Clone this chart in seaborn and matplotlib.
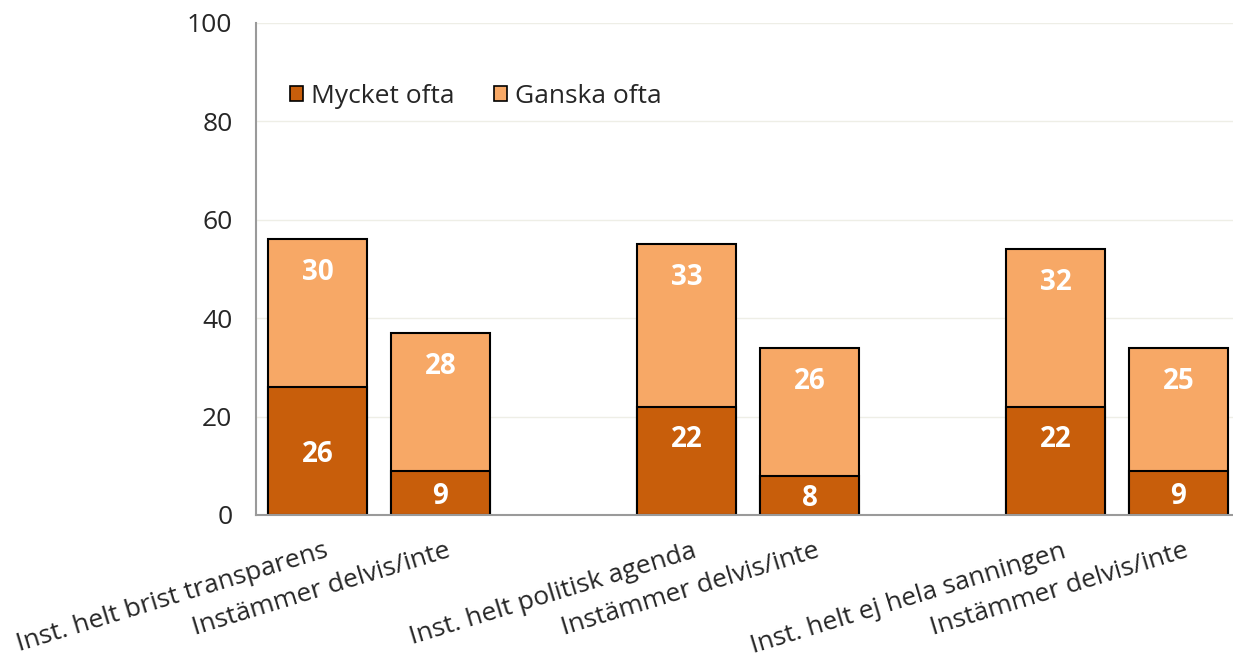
import matplotlib
matplotlib.use("Agg")
import matplotlib.pyplot as plt
import matplotlib.transforms as mtransforms
import seaborn as sns
import pandas as pd
import numpy as np
from matplotlib.ticker import FixedLocator
from matplotlib.patches import Patch

# ---- data ----
slot_ids = ["c1", "c2", "gap1", "c3", "c4", "gap2", "c5", "c6"]
tick_labels = ["Inst. helt brist transparens", "Instämmer delvis/inte", "",
               "Inst. helt politisk agenda", "Instämmer delvis/inte", "",
               "Inst. helt ej hela sanningen", "Instämmer delvis/inte"]
bar_ids = ["c1", "c2", "c3", "c4", "c5", "c6"]
mycket_ofta = [26, 9, 22, 8, 22, 9]
ganska_ofta = [30, 28, 33, 26, 32, 25]
series_names = ["Mycket ofta", "Ganska ofta"]
y_ticks = [0, 20, 40, 60, 80, 100]

# label placement style for the lower segment ("center" or "end")
mycket_label_mode = ["center", "center", "end", "center", "end", "center"]

dark = "#C85E0B"
light = "#F7A866"

sns.set_theme(style="white")
plt.rcParams["font.family"] = ["Open Sans", "DejaVu Sans"]

df = pd.DataFrame({"id": bar_ids, "mycket": mycket_ofta, "ganska": ganska_ofta})
df["total"] = df["mycket"] + df["ganska"]

W, H = 1233, 659
fig = plt.figure(figsize=(W / 100, H / 100), dpi=100)
ax = fig.add_axes([256 / W, 144 / H, (1240 - 256) / W, (636 - 144) / H])

sns.barplot(data=df, x="id", y="total", order=slot_ids, color=light,
            edgecolor="black", linewidth=1.5, width=0.8, saturation=1, ax=ax)
sns.barplot(data=df, x="id", y="mycket", order=slot_ids, color=dark,
            edgecolor="black", linewidth=1.5, width=0.8, saturation=1, ax=ax)

# value labels
pos = {s: i for i, s in enumerate(slot_ids)}
for (_, r), mode in zip(df.iterrows(), mycket_label_mode):
    x = pos[r["id"]]
    m = r["mycket"]
    ym = m - 6.6 if mode == "end" else m / 2 - 0.7
    ax.text(x, ym, f"{m}", ha="center", va="center", color="white",
            fontsize=20, fontweight="bold")
    ax.text(x, r["total"] - 6.8, f"{r['ganska']}", ha="center", va="center",
            color="white", fontsize=20, fontweight="bold")

ax.set_xlim(-0.5, 7.5)
ax.set_ylim(0, 100)
ax.set_yticks(y_ticks)
ax.set_yticklabels([str(v) for v in y_ticks], fontsize=19)
ax.tick_params(axis="y", length=0, pad=17)
ax.set_xlabel("")
ax.set_ylabel("")
ax.grid(axis="y", color="#EEEEE6", linewidth=1)
ax.set_axisbelow(True)

ax.set_xticks(range(len(slot_ids)))
ax.set_xticklabels(tick_labels, rotation=17, ha="right", va="top",
                   rotation_mode="anchor", fontsize=19)
ax.tick_params(axis="x", which="major", length=0, pad=17)
offset = mtransforms.ScaledTranslation(6 / 100, 0, fig.dpi_scale_trans)
for lab in ax.get_xticklabels():
    lab.set_transform(lab.get_transform() + offset)
ax.xaxis.set_minor_locator(FixedLocator(np.arange(0.5, 7.0, 1.0)))
ax.tick_params(axis="x", which="minor", direction="in", length=6,
               color="#999999", width=1.2)

for s in ["top", "right"]:
    ax.spines[s].set_visible(False)
for s in ["left", "bottom"]:
    ax.spines[s].set_color("#9A9A9A")
    ax.spines[s].set_linewidth(1.5)

handles = [Patch(facecolor=dark, edgecolor="black", linewidth=1.2),
           Patch(facecolor=light, edgecolor="black", linewidth=1.2)]
ax.legend(handles, series_names, loc="center left", bbox_to_anchor=(0.01, 0.85),
          ncol=2, frameon=False, fontsize=19, handlelength=0.5, handleheight=0.5,
          handletextpad=0.3, columnspacing=1.5)

fig.savefig("out.png", dpi=100)
